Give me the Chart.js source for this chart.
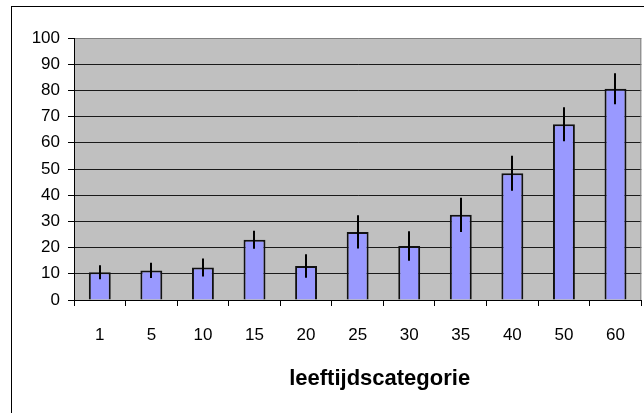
<!DOCTYPE html>
<html>
<head>
<meta charset="utf-8">
<script src="https://cdn.jsdelivr.net/npm/chart.js@4/dist/chart.umd.min.js"></script>
<style>
html,body{margin:0;padding:0;background:#fff;}
canvas{display:block;}
</style>
</head>
<body>
<canvas id="c" width="644" height="413"></canvas>
<script>
const categories = ['1','5','10','15','20','25','30','35','40','50','60'];
const values = [10.6, 11.3, 12.4, 23.0, 13.0, 26.0, 20.6, 32.5, 48.4, 67.1, 80.6];
const errors = [2.7, 2.9, 3.4, 3.4, 4.5, 6.3, 5.6, 6.5, 6.7, 6.5, 5.9];
const xTitle = 'leeftijdscategorie';

const FONT = '"Liberation Sans", Arial, sans-serif';

const framePlugin = {
  id: 'frame',
  beforeDraw(chart) {
    const {ctx, chartArea: a} = chart;
    ctx.save();
    ctx.fillStyle = '#fff';
    ctx.fillRect(0, 0, chart.width, chart.height);
    ctx.strokeStyle = '#000';
    ctx.lineWidth = 1;
    ctx.strokeRect(11.5, 6.5, 800, 600);
    ctx.fillStyle = '#C0C0C0';
    ctx.fillRect(a.left, a.top, a.right - a.left, a.bottom - a.top);
    ctx.restore();
  },
  afterDraw(chart) {
    const {ctx, chartArea: a} = chart;
    ctx.save();
    ctx.strokeStyle = '#808080';
    ctx.lineWidth = 1;
    ctx.beginPath();
    ctx.moveTo(a.right - 0.5, a.top);
    ctx.lineTo(a.right - 0.5, a.bottom);
    ctx.stroke();
    ctx.fillStyle = '#000';
    ctx.font = 'bold 22px ' + FONT;
    ctx.textAlign = 'center';
    ctx.textBaseline = 'alphabetic';
    ctx.fillText(xTitle, (a.left + a.right) / 2 + 22, 385);
    ctx.restore();
  }
};

const errorBarPlugin = {
  id: 'errbars',
  afterDatasetsDraw(chart) {
    const {ctx} = chart;
    const meta = chart.getDatasetMeta(0);
    const y = chart.scales.y;
    ctx.save();
    ctx.strokeStyle = '#000';
    ctx.lineWidth = 2;
    meta.data.forEach((bar, i) => {
      const v = values[i], e = errors[i];
      const x = Math.round(bar.x);
      ctx.beginPath();
      ctx.moveTo(x, y.getPixelForValue(v + e));
      ctx.lineTo(x, y.getPixelForValue(v - e));
      ctx.stroke();
    });
    ctx.restore();
  }
};

new Chart(document.getElementById('c'), {
  type: 'bar',
  data: {
    labels: categories,
    datasets: [{
      data: values,
      backgroundColor: '#9999FF',
      borderColor: '#111',
      borderWidth: 2,
      barPercentage: 0.425,
      categoryPercentage: 1
    }]
  },
  options: {
    responsive: false,
    animation: false,
    devicePixelRatio: 1,
    layout: {padding: {top: 38, right: 1, left: 0, bottom: 0}},
    plugins: {legend: {display: false}, tooltip: {enabled: false}, title: {display: false}},
    scales: {
      x: {
        afterFit(s) { s.height = 113; },
        grid: {display: true, drawOnChartArea: false, drawTicks: true, tickLength: 6, color: '#000', offset: true},
        border: {display: true, color: '#000', width: 1},
        ticks: {color: '#000', font: {family: FONT, size: 17}, padding: 19, maxRotation: 0}
      },
      y: {
        min: 0, max: 100,
        afterFit(s) { s.width = 74; },
        grid: {
          color: (c) => c.tick && c.tick.value === 100 ? '#808080' : '#1a1a1a',
          tickColor: '#000',
          tickLength: 6, lineWidth: 1
        },
        border: {display: true, color: '#000', width: 1},
        ticks: {stepSize: 10, color: '#000', font: {family: FONT, size: 17}, padding: 8}
      }
    }
  },
  plugins: [framePlugin, errorBarPlugin]
});
</script>
</body>
</html>
